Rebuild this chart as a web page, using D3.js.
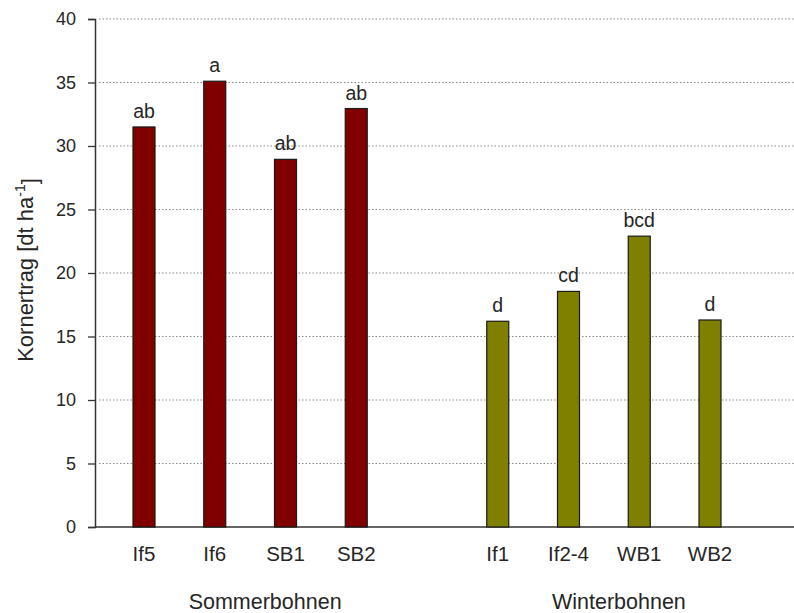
<!DOCTYPE html>
<html>
<head>
<meta charset="utf-8">
<script src="https://cdn.jsdelivr.net/npm/d3@7/dist/d3.min.js"></script>
<style>
  html, body { margin: 0; padding: 0; background: #fff; }
  svg text { font-family: "Liberation Sans", Arial, sans-serif; fill: #262626; }
</style>
</head>
<body>
<svg id="chart" width="794" height="613"></svg>
<script>
// Grain yield per variety, grouped by sowing type
const categories = ["If5", "If6", "SB1", "SB2", "If1", "If2-4", "WB1", "WB2"];
const groups = ["Sommerbohnen", "Sommerbohnen", "Sommerbohnen", "Sommerbohnen",
                "Winterbohnen", "Winterbohnen", "Winterbohnen", "Winterbohnen"];
const yieldValues = [31.5, 35.1, 28.95, 32.95, 16.2, 18.55, 22.9, 16.3];
const letters = ["ab", "a", "ab", "ab", "d", "cd", "bcd", "d"];
const groupNames = ["Sommerbohnen", "Winterbohnen"];
const groupColors = ["#800000", "#808000"];
const yTicks = [0, 5, 10, 15, 20, 25, 30, 35, 40];

const svg = d3.select("#chart");
const W = 794, H = 613;
const mLeft = 95, mTop = 19, mBottom = 527, mRight = W;

// slot positions: four summer varieties, one empty slot, four winter varieties
const slots = ["If5", "If6", "SB1", "SB2", "_gap", "If1", "If2-4", "WB1", "WB2"];
const x = d3.scalePoint().domain(slots).range([144, 710]);
const barW = 22;

const y = d3.scaleLinear().domain([0, 40]).range([mBottom, mTop]);
const color = d3.scaleOrdinal().domain(groupNames).range(groupColors);

// dotted horizontal grid lines
svg.append("g")
  .selectAll("line")
  .data(yTicks.filter(t => t > 0))
  .join("line")
  .attr("x1", mLeft + 4).attr("x2", mRight)
  .attr("y1", d => y(d)).attr("y2", d => y(d))
  .attr("stroke", "#8a8a8a")
  .attr("stroke-width", 1.1)
  .attr("stroke-dasharray", "1.5,2");

// y axis
const yAxis = d3.axisLeft(y).tickValues(yTicks).tickSize(7).tickPadding(12);
const gy = svg.append("g").attr("transform", `translate(${mLeft},0)`).call(yAxis);
gy.select(".domain").attr("stroke", "#333").attr("stroke-width", 1.5);
gy.selectAll(".tick line").attr("stroke", "#333").attr("stroke-width", 1.3);
gy.selectAll(".tick text")
  .style("font-family", "'Liberation Sans', Arial, sans-serif")
  .style("font-size", "18px").attr("fill", "#262626");

// x baseline
svg.append("line")
  .attr("x1", mLeft).attr("x2", mRight)
  .attr("y1", y(0)).attr("y2", y(0))
  .attr("stroke", "#333").attr("stroke-width", 1.5);

const data = categories.map((c, i) => ({ cat: c, group: groups[i], v: yieldValues[i], letter: letters[i] }));

// bars
svg.append("g")
  .selectAll("rect")
  .data(data)
  .join("rect")
  .attr("x", d => x(d.cat) - barW / 2)
  .attr("width", barW)
  .attr("y", d => y(d.v))
  .attr("height", d => y(0) - y(d.v))
  .attr("fill", d => color(d.group))
  .attr("stroke", "#1a1a1a")
  .attr("stroke-width", 1.2);

// significance letters
svg.append("g")
  .selectAll("text")
  .data(data)
  .join("text")
  .attr("x", d => x(d.cat))
  .attr("y", d => y(d.v) - 9)
  .attr("text-anchor", "middle")
  .style("font-size", "19.5px")
  .text(d => d.letter);

// category labels
svg.append("g")
  .selectAll("text")
  .data(data)
  .join("text")
  .attr("x", d => x(d.cat))
  .attr("y", 561)
  .attr("text-anchor", "middle")
  .style("font-size", "20.5px")
  .text(d => d.cat);

// group labels
svg.append("g")
  .selectAll("text")
  .data(groupNames)
  .join("text")
  .attr("x", g => {
    const cs = categories.filter((c, i) => groups[i] === g);
    return (x(cs[0]) + x(cs[cs.length - 1])) / 2 + 15;
  })
  .attr("y", 609)
  .attr("text-anchor", "middle")
  .style("font-size", "21.5px")
  .text(g => g);

// y axis title
const yt = svg.append("text")
  .attr("transform", "translate(33,270) rotate(-90)")
  .attr("text-anchor", "middle")
  .style("font-size", "22px");
yt.append("tspan").text("Kornertrag [dt ha");
yt.append("tspan").attr("dy", "-0.55em").style("font-size", "14px").text("-1");
yt.append("tspan").attr("dy", "0.55em").text("]");
</script>
</body>
</html>
